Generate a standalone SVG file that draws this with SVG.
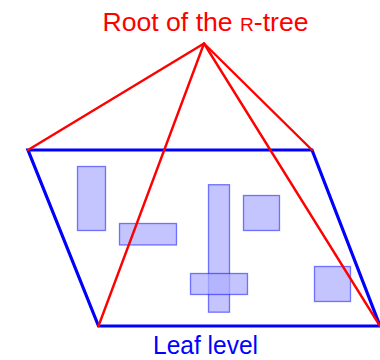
<svg xmlns="http://www.w3.org/2000/svg" width="380" height="360" viewBox="0 0 380 360">
<style>
.lbl{font-family:"Liberation Sans","DejaVu Sans",sans-serif;font-size:25px;text-anchor:middle}
.mbr{fill:#aeaeff;fill-opacity:0.73;stroke:#0000ff;stroke-opacity:0.5;stroke-width:1.3}
.edge{stroke:#ff0000;stroke-width:2.4;fill:none;stroke-linecap:round}
</style>
<rect width="380" height="360" fill="#ffffff"/>
<g id="root-label"><text class="lbl" x="205.5" y="31" fill="#ff0000" textLength="206" lengthAdjust="spacingAndGlyphs">Root of the <tspan font-size="18">R</tspan>-tree</text></g>
<g id="leaf-rects">
<rect class="mbr" x="77.5" y="166.5" width="28" height="64"/>
<rect class="mbr" x="119.5" y="223.5" width="57" height="21.5"/>
<rect class="mbr" x="208.5" y="184.7" width="21" height="127.5"/>
<rect class="mbr" x="243.5" y="195.5" width="36" height="35"/>
<rect class="mbr" x="190.5" y="273.5" width="57" height="21"/>
<rect class="mbr" x="314.5" y="266.5" width="36" height="35"/>
</g>
<g id="leaf-level">
<polygon points="28,150 312,150 380,326 98.5,326" fill="none" stroke="#0000ff" stroke-width="3.2" stroke-linejoin="miter"/>
<text class="lbl" x="205.5" y="354" fill="#0000ff" textLength="105" lengthAdjust="spacingAndGlyphs">Leaf level</text>
</g>
<g id="connectors">
<line class="edge" x1="204" y1="43.5" x2="28" y2="150"/>
<line class="edge" x1="204" y1="43.5" x2="312" y2="150"/>
<line class="edge" x1="204" y1="43.5" x2="98.5" y2="326"/>
<line class="edge" x1="204" y1="43.5" x2="380" y2="326"/>
</g>
</svg>
